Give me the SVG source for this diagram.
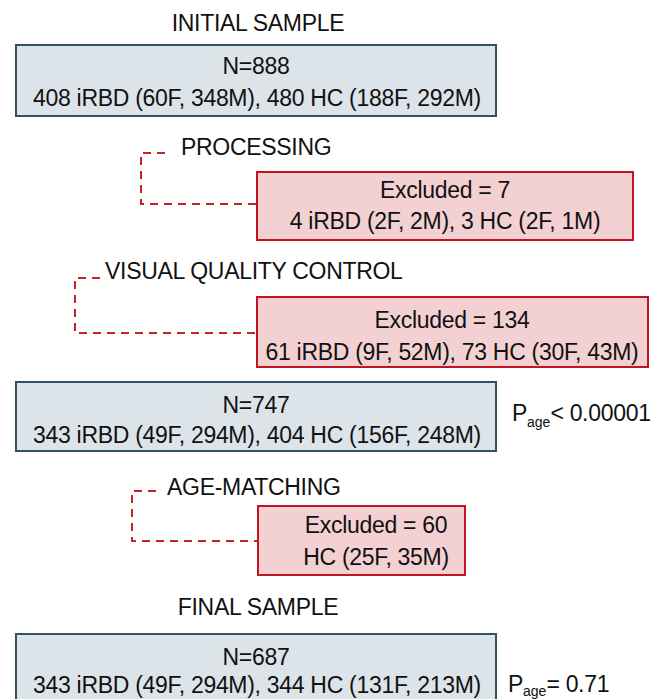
<svg xmlns="http://www.w3.org/2000/svg" width="665" height="699" viewBox="0 0 665 699">
<style>
text{font-family:"Liberation Sans",Arial,sans-serif;font-size:23px;fill:#111;letter-spacing:-0.3px}
.m{text-anchor:middle}
.sub{font-size:14px;letter-spacing:0}
.blue{fill:#dce3e9;stroke:#2e5466;stroke-width:2}
.red{fill:#f3d0d2;stroke:#c3141f;stroke-width:2}
.dash{fill:none;stroke:#c8202a;stroke-width:2;stroke-dasharray:8 6}
</style>
<rect width="665" height="699" fill="#fff"/>
<g id="connectors">
<path class="dash" d="M165,153 H141 V204 H257"/>
<path class="dash" d="M100,278 H75 V333 H257"/>
<path class="dash" d="M156,491 H132 V541 H258"/>
</g>
<g id="initial">
<text class="m" x="258" y="31">INITIAL SAMPLE</text>
<rect class="blue" x="16" y="45" width="480" height="71"/>
<text class="m" x="256" y="74">N=888</text>
<text class="m" x="257" y="106">408 iRBD (60F, 348M), 480 HC (188F, 292M)</text>
</g>
<g id="processing">
<text x="181" y="155">PROCESSING</text>
</g>
<g id="excluded1">
<rect class="red" x="257" y="172" width="376" height="68"/>
<text class="m" x="445" y="198">Excluded = 7</text>
<text class="m" x="445" y="229">4 iRBD (2F, 2M), 3 HC (2F, 1M)</text>
</g>
<g id="vqc">
<text x="105" y="279">VISUAL QUALITY CONTROL</text>
</g>
<g id="excluded2">
<rect class="red" x="257" y="297" width="391" height="70"/>
<text class="m" x="452" y="328">Excluded = 134</text>
<text class="m" x="452" y="360">61 iRBD (9F, 52M), 73 HC (30F, 43M)</text>
</g>
<g id="n747">
<rect class="blue" x="16" y="382" width="480" height="69"/>
<text class="m" x="256" y="413">N=747</text>
<text class="m" x="257" y="443">343 iRBD (49F, 294M), 404 HC (156F, 248M)</text>
<text x="512" y="421">P<tspan class="sub" dy="6">age</tspan><tspan dy="-6">&lt; 0.00001</tspan></text>
</g>
<g id="agematching">
<text x="167" y="495">AGE-MATCHING</text>
</g>
<g id="excluded3">
<rect class="red" x="258" y="506" width="207" height="69"/>
<text class="m" x="376" y="533">Excluded = 60</text>
<text class="m" x="376" y="565">HC (25F, 35M)</text>
</g>
<g id="final">
<text class="m" x="258" y="615">FINAL SAMPLE</text>
<rect class="blue" x="16" y="634" width="480" height="80"/>
<text class="m" x="256" y="665">N=687</text>
<text class="m" x="257" y="693">343 iRBD (49F, 294M), 344 HC (131F, 213M)</text>
<text x="508" y="692">P<tspan class="sub" dy="4">age</tspan><tspan dy="-4">= 0.71</tspan></text>
</g>
</svg>
